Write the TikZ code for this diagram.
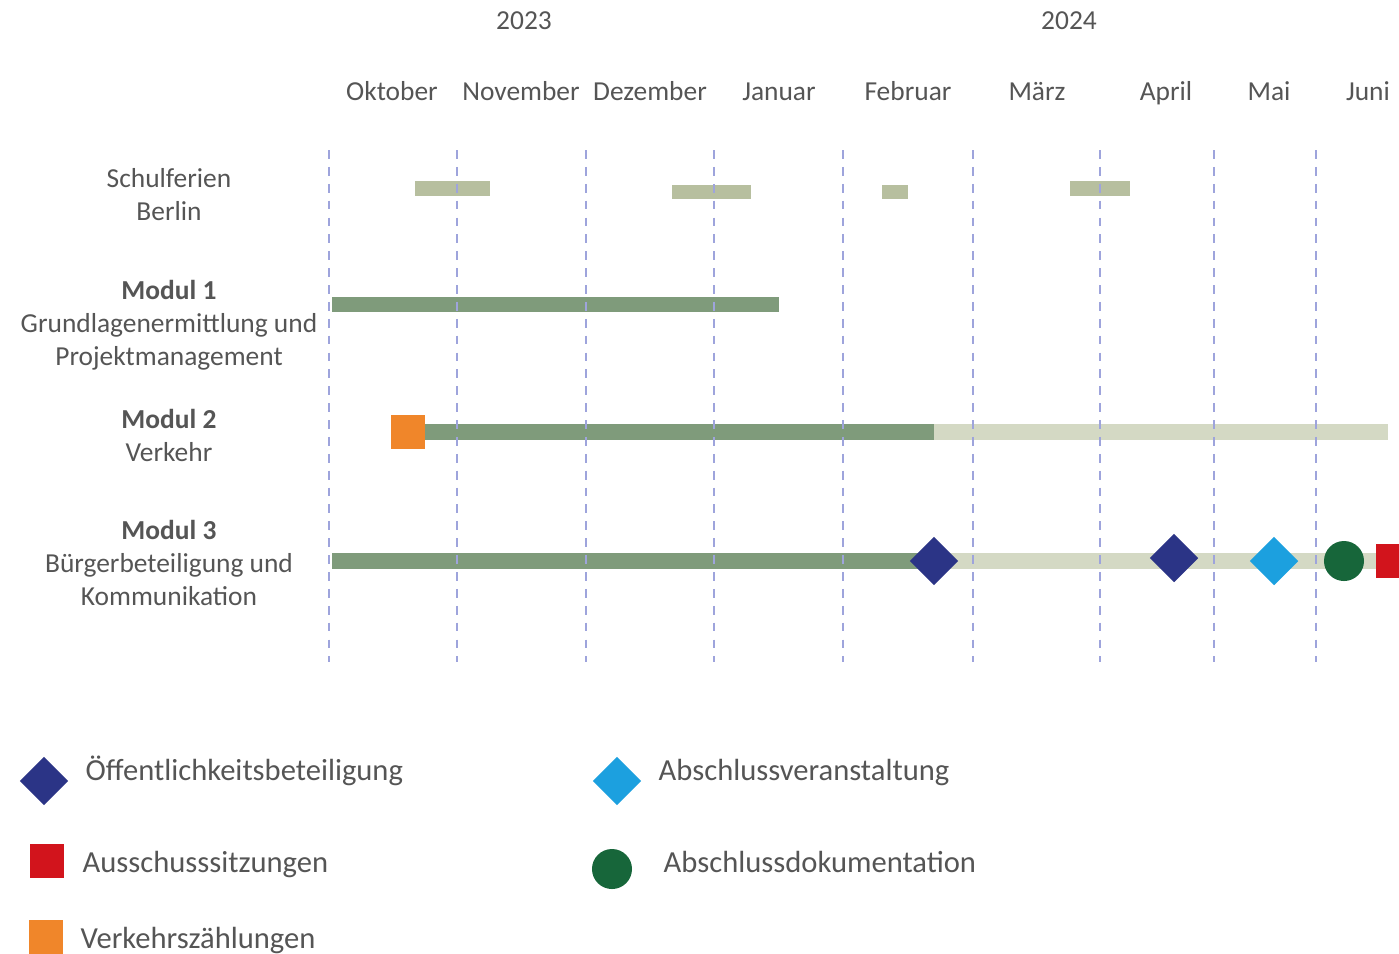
\documentclass[tikz,border=0pt]{standalone}
\usepackage{fontspec}
\setmainfont{Carlito}
\usetikzlibrary{shapes.geometric}
\definecolor{txtgray}{HTML}{555555}
\definecolor{grid}{HTML}{9EA4DC}
\definecolor{ferien}{HTML}{B7BF9F}
\definecolor{done}{HTML}{7F9B7B}
\definecolor{todo}{HTML}{D4D9C4}
\definecolor{oeff}{HTML}{2B3486}
\definecolor{abschl}{HTML}{1CA0DF}
\definecolor{doku}{HTML}{17663A}
\definecolor{aussch}{HTML}{D2141C}
\definecolor{zaehl}{HTML}{F0862A}
\begin{document}
\begin{tikzpicture}[x=0.01cm,y=-0.01cm,
  txt/.style={inner sep=0pt,text=txtgray,font=\fontsize{7.8}{9.5}\selectfont,anchor=base},
  leg/.style={inner sep=0pt,text=txtgray,font=\fontsize{8.7}{10}\selectfont,anchor=base west},
  raute/.style={diamond,inner sep=0pt,minimum width=0.49cm,minimum height=0.49cm},
  quad/.style={rectangle,inner sep=0pt,minimum size=0.34cm},
  punkt/.style={circle,inner sep=0pt,minimum size=0.40cm}]
\useasboundingbox (0,0) rectangle (1399,953);
\draw (524,29) node[txt](j23){2023};
\draw (1069,29) node[txt](j24){2024};
\draw (392,100) node[txt](okt){Oktober};
\draw (521,100) node[txt](nov){November};
\draw (650,100) node[txt](dez){Dezember};
\draw (779,100) node[txt](jan){Januar};
\draw (908,100) node[txt](feb){Februar};
\draw (1037,100) node[txt](mar){März};
\draw (1166,100) node[txt](apr){April};
\draw (1269,100) node[txt](mai){Mai};
\draw (1368,100) node[txt](jun){Juni};
\draw (169,187) node[txt](sf1){Schulferien};
\draw (169,220) node[txt](sf2){Berlin};
\draw (169,299) node[txt](m11){\bfseries Modul 1};
\draw (169,332) node[txt](m12){Grundlagenermittlung und};
\draw (169,365) node[txt](m13){Projektmanagement};
\draw (169,428) node[txt](m21){\bfseries Modul 2};
\draw (169,461) node[txt](m22){Verkehr};
\draw (169,539) node[txt](m31){\bfseries Modul 3};
\draw (169,572) node[txt](m32){Bürgerbeteiligung und};
\draw (169,605) node[txt](m33){Kommunikation};
\color{ferien}
\fill (415,181) rectangle (490,196);
\fill (672,185) rectangle (751,199);
\fill (882,185) rectangle (908,199);
\fill (1070,181) rectangle (1130,196);
\color{done}
\fill (332,297) rectangle (779,312);
\fill (425,424) rectangle (934,440);
\fill (332,553) rectangle (934,569);
\color{todo}
\fill (934,424) rectangle (1388,440);
\fill (934,553) rectangle (1385,569);
\foreach \x in {329,457,586,714,843,973,1100,1214,1316}
  \draw[grid,line width=0.7pt,dash pattern=on 2.5pt off 2.3pt] (\x,150)--(\x,662);
\draw (408,432) node[quad,fill=zaehl](z1){};
\draw (934,561) node[raute,fill=oeff](o1){};
\draw (1174,558) node[raute,fill=oeff](o2){};
\draw (1274,561) node[raute,fill=abschl](a1){};
\draw (1344,561) node[punkt,fill=doku](d1){};
\draw (1393,561) node[quad,fill=aussch](s1){};
%legende
\draw (44,781) node[raute,fill=oeff](lo){};
\draw (85,780) node[leg](lot){Öffentlichkeitsbeteiligung};
\draw (47,861) node[quad,fill=aussch](ls){};
\draw (82,872) node[leg](lst){Ausschusssitzungen};
\draw (46,937) node[quad,fill=zaehl](lz){};
\draw (80,948) node[leg](lzt){Verkehrszählungen};
\draw (617,781) node[raute,fill=abschl](la){};
\draw (658,780) node[leg](lat){Abschlussveranstaltung};
\draw (612,869) node[punkt,fill=doku](ld){};
\draw (663,872) node[leg](ldt){Abschlussdokumentation};
\end{tikzpicture}
\end{document}
